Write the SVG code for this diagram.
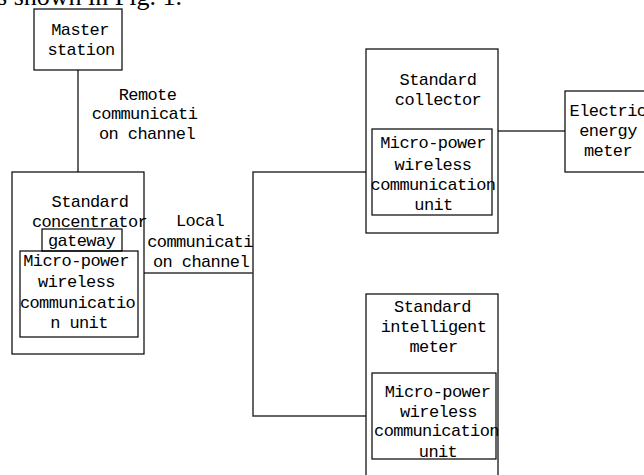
<svg xmlns="http://www.w3.org/2000/svg" width="644" height="475" viewBox="0 0 644 475">
<style>
.box{fill:#fff;stroke:#000;stroke-width:1.2}
.in{fill:none;stroke:#000;stroke-width:1.2}
.ln{fill:none;stroke:#333;stroke-width:1.5}
.ml{fill:none;stroke:#666;stroke-width:2}
text{font-family:"Liberation Mono","DejaVu Sans Mono",monospace;font-size:17px;letter-spacing:-0.6px;fill:#000;text-anchor:middle}
.cap{font-family:"Liberation Serif","Times New Roman",serif;font-size:26px;letter-spacing:0;text-anchor:end}
</style>
<rect width="644" height="475" fill="#fff"/>
<text class="cap" x="182" y="5">as shown in Fig. 1.</text>
<g id="connectors">
<line class="ml" x1="78" y1="70" x2="78" y2="172"/>
<polyline class="ln" points="144,273 253,273"/>
<polyline class="ln" points="366,172 253,172 253,416 366,416"/>
<line class="ln" x1="498" y1="131" x2="565" y2="131"/>
</g>
<g id="master">
<rect class="box" x="34" y="9" width="88" height="61"/>
<text x="80" y="35">Master</text>
<text x="81" y="55">station</text>
</g>
<g id="remote-label">
<text x="147.5" y="100">Remote</text>
<text x="144.5" y="119">communicati</text>
<text x="147" y="139">on channel</text>
</g>
<g id="local-label">
<text x="200" y="226">Local</text>
<text x="200" y="247">communicati</text>
<text x="201" y="267">on channel</text>
</g>
<g id="concentrator">
<rect class="box" x="12" y="172" width="132" height="182"/>
<text x="90" y="207">Standard</text>
<text x="89.5" y="227">concentrator</text>
<rect class="in" x="42" y="229" width="80" height="22"/>
<text x="81.5" y="246">gateway</text>
<rect class="in" x="20" y="251" width="118" height="86"/>
<text x="76" y="266">Micro-power</text>
<text x="76.5" y="287">wireless</text>
<text x="77.5" y="308">communicatio</text>
<text x="79" y="328">n unit</text>
</g>
<g id="collector">
<rect class="box" x="366" y="49" width="132" height="184"/>
<text x="438" y="85">Standard</text>
<text x="438" y="105">collector</text>
<rect class="in" x="372" y="129" width="120" height="86"/>
<text x="433" y="148">Micro-power</text>
<text x="433" y="170">wireless</text>
<text x="433" y="190">communication</text>
<text x="433.5" y="210">unit</text>
</g>
<g id="meter">
<rect class="box" x="565" y="91" width="82" height="81"/>
<text x="608" y="116">Electric</text>
<text x="608" y="136">energy</text>
<text x="608" y="156">meter</text>
</g>
<g id="intelligent-meter">
<rect class="box" x="366" y="294" width="132" height="190"/>
<text x="432.5" y="312">Standard</text>
<text x="433.5" y="332">intelligent</text>
<text x="433.5" y="352">meter</text>
<rect class="in" x="372" y="373" width="124" height="86"/>
<text x="437.5" y="397">Micro-power</text>
<text x="438.5" y="417">wireless</text>
<text x="436.5" y="436">communication</text>
<text x="438" y="457">unit</text>
</g>
</svg>
